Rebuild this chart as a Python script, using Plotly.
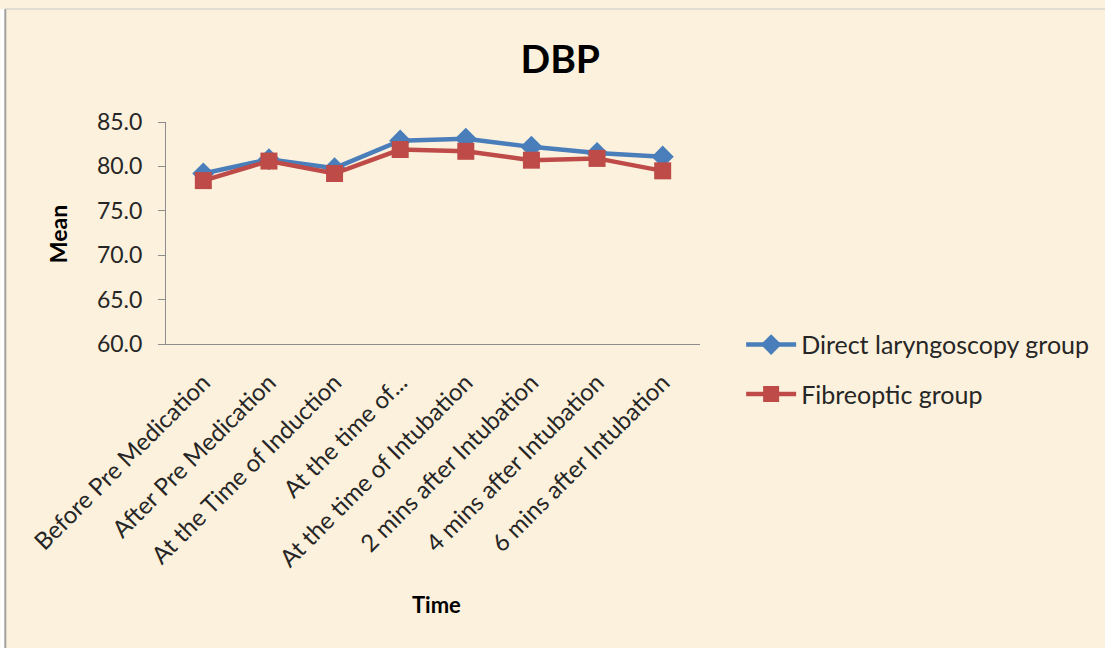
import plotly.graph_objects as go

# Time points along the x axis
categories = [
    "Before Pre Medication",
    "After Pre Medication",
    "At the Time of Induction",
    "At the time of...",
    "At the time of Intubation",
    "2 mins after Intubation",
    "4 mins after Intubation",
    "6 mins after Intubation",
]

# Mean diastolic blood pressure per group
direct_laryngoscopy = [79.2, 80.8, 79.8, 82.9, 83.1, 82.2, 81.5, 81.1]
fibreoptic = [78.4, 80.6, 79.2, 81.9, 81.7, 80.7, 80.9, 79.5]

y_ticks = [60, 65, 70, 75, 80, 85]

BG = "#FCF1DC"
FONT = "Lato, 'Open Sans', sans-serif"
TXT = "#262626"

fig = go.Figure()

fig.add_trace(go.Scatter(
    x=categories, y=direct_laryngoscopy, mode="lines+markers",
    name="Direct laryngoscopy group", legendgroup="a",
    line=dict(color="#4A7EBB", width=4.5),
    marker=dict(symbol="diamond", size=17, color="#4A7EBB"),
))
fig.add_trace(go.Scatter(
    x=categories, y=fibreoptic, mode="lines+markers",
    name="Fibreoptic group", legendgroup="b",
    line=dict(color="#BE4B48", width=4.5),
    marker=dict(symbol="square", size=17, color="#BE4B48"),
))

fig.update_layout(
    width=1105, height=648,
    margin=dict(l=166, r=404, t=122, b=304),
    paper_bgcolor=BG, plot_bgcolor=BG,
    font=dict(family=FONT, size=22, color=TXT),
    title=dict(text="<b>DBP</b>", xref="container", yref="container",
               x=0.507, y=1 - 59 / 648, xanchor="center", yanchor="middle",
               font=dict(family=FONT, size=39, color="#000000")),
    showlegend=True,
    legend=dict(x=1.075, y=0.10, xanchor="left", yanchor="top",
                bgcolor="rgba(0,0,0,0)", font=dict(size=25, color=TXT),
                traceorder="grouped", tracegroupgap=14, itemwidth=50),
    xaxis=dict(type="category", tickangle=-45, showgrid=False,
               showline=True, linecolor="#8C8C8C", linewidth=1,
               ticks="", ticklabelstandoff=14,
               tickfont=dict(size=24, color=TXT)),
    yaxis=dict(range=[60, 85], tickvals=y_ticks,
               ticktext=[f"{v:.1f}" for v in y_ticks],
               showgrid=False, zeroline=False,
               showline=True, linecolor="#8C8C8C", linewidth=1,
               ticks="outside", ticklen=7, tickcolor="#8C8C8C",
               ticklabelstandoff=11,
               tickfont=dict(size=23, color=TXT)),
    annotations=[
        dict(text="<b>Mean</b>", xref="paper", yref="paper",
             x=(58 - 166) / 535, y=(344 - 234) / 222,
             xanchor="center", yanchor="middle",
             textangle=-90, showarrow=False,
             font=dict(size=23, color="#000000")),
        dict(text="<b>Time</b>", xref="paper", yref="paper",
             x=(437 - 166) / 535, y=-(604 - 344) / 222,
             xanchor="center", yanchor="middle", showarrow=False,
             font=dict(size=22, color="#000000")),
    ],
    shapes=[
        dict(type="rect", xref="paper", yref="paper",
             x0=-1, x1=3, y0=(344 - 0) / 222, y1=(344 + 10) / 222,
             fillcolor="#FFFFFF", line=dict(width=0), layer="above"),
        dict(type="rect", xref="paper", yref="paper",
             x0=-166 / 535, x1=-161 / 535, y0=-2, y1=(344 - 9) / 222,
             fillcolor="#FFFFFF", line=dict(width=0), layer="above"),
        dict(type="line", xref="paper", yref="paper",
             x0=-161 / 535, x1=-161 / 535, y0=-2, y1=(344 - 9) / 222,
             line=dict(color="#A0A0A0", width=2), layer="above"),
        dict(type="line", xref="paper", yref="paper",
             x0=-161 / 535, x1=3, y0=(344 - 9) / 222, y1=(344 - 9) / 222,
             line=dict(color="#C8C8C8", width=1), layer="above"),
    ],
)

fig.write_html("out.html")
